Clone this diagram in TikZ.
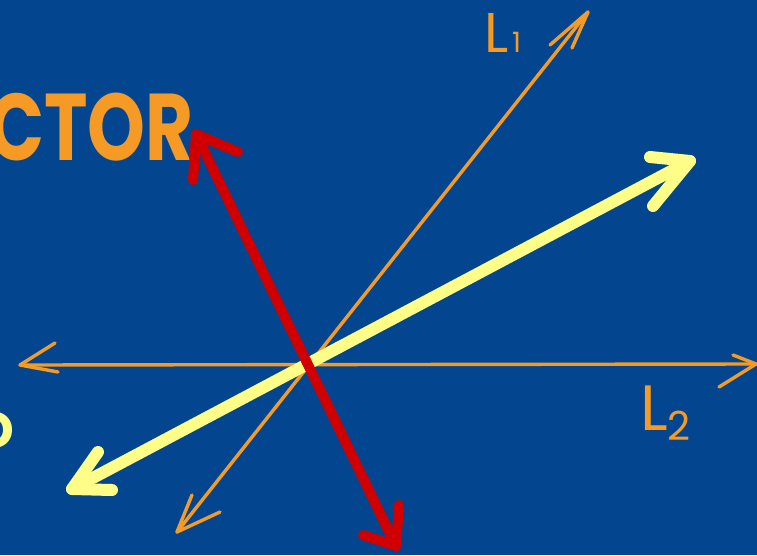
\documentclass[tikz,border=0pt]{standalone}
\usepackage{fontspec}
\setmainfont{Poppins}
\definecolor{bg}{HTML}{03468F}
\definecolor{org}{HTML}{F49A25}
\definecolor{ylw}{HTML}{FDFD88}
\definecolor{rd}{HTML}{D00000}
\tikzset{
  orgline/.style={draw=org, line width=3.4pt, line cap=round, line join=round},
  ylwline/.style={draw=ylw, line width=12pt, line cap=round, line join=round},
  rdline/.style={draw=rd, line width=10pt, line cap=round, line join=round},
  hand/.style={inner sep=0pt, outer sep=0pt}
}
\begin{document}
\begin{tikzpicture}[x=1pt,y=-1pt]
\useasboundingbox (0,0) rectangle (757,555);
\clip (0,0) rectangle (757,555);
\fill[bg] (0,0) rectangle (757,555);

% labels
\node[hand, text=org, anchor=base west, xscale=0.8, yscale=1.03, font=\bfseries\fontsize{92}{92}\selectfont] (title) at (-12,160) {CTOR};
\node[hand, text=org, anchor=base west, font=\fontsize{56}{56}\selectfont] (l1) at (484,52) {L\hspace{4pt}{\fontsize{28}{28}\selectfont 1}};
\node[hand, text=org, anchor=base west, font=\fontsize{64}{64}\selectfont] (l2) at (640,430) {L\raisebox{-10pt}{\fontsize{40}{40}\selectfont 2}};
\node[hand, text=ylw, anchor=base east, font=\bfseries\fontsize{52}{52}\selectfont] (dpart) at (14,448) {D};

% L2 horizontal
\coordinate (l2a) at (20,365);
\coordinate (l2b) at (756,364);
\draw[orgline] (l2a) -- (l2b);
\draw[orgline] (55,343) -- (l2a) -- (58,372);
\draw[orgline] (733,355) -- (l2b) -- (719,387);

% L1 diagonal
\coordinate (l1a) at (177,532);
\coordinate (l1b) at (588,12);
\draw[orgline] (l1a) -- (l1b);
\draw[orgline] (192,495) -- (l1a) -- (220,512);
\draw[orgline] (550,45) -- (l1b) -- (572,48);

% yellow vector
\coordinate (ya) at (72,489);
\coordinate (yb) at (690,161);
\draw[ylwline] (ya) -- (yb);
\draw[ylwline] (98,452) -- (ya) -- (112,490);
\draw[ylwline] (650,157) -- (yb) -- (653,206);

% red vector
\coordinate (ra) at (196,134);
\coordinate (rb) at (396,546);
\draw[rdline] (ra) -- (rb);
\draw[rdline] (193,180) -- (ra) -- (238,152);
\draw[rdline] (363,535) -- (rb) -- (399,505);
\end{tikzpicture}
\end{document}
